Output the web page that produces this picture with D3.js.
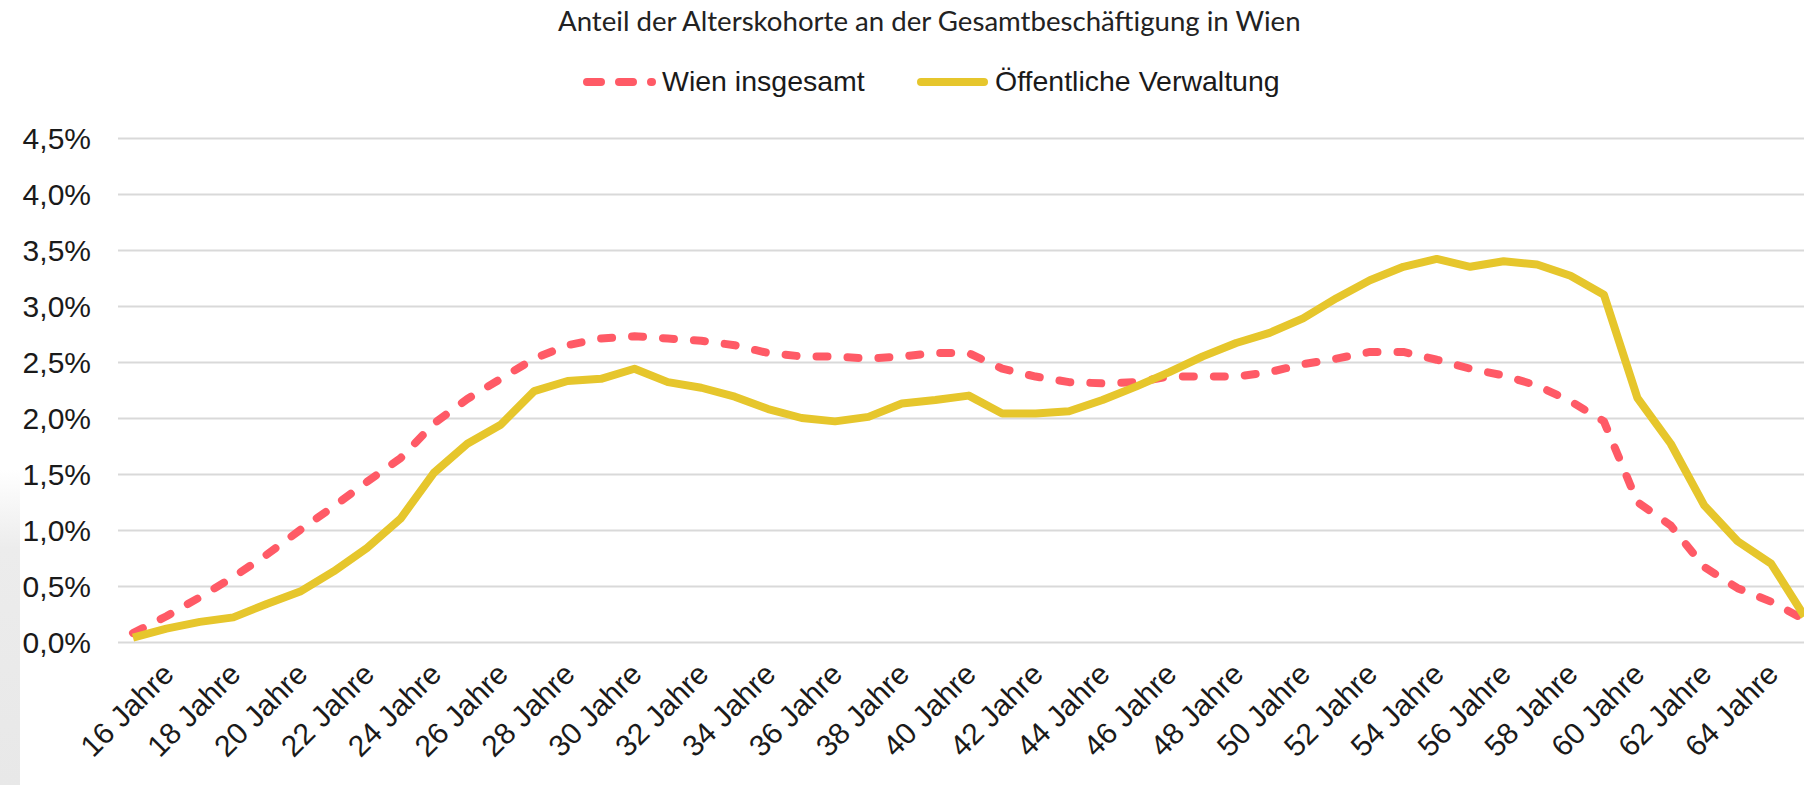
<!DOCTYPE html>
<html>
<head>
<meta charset="utf-8">
<script src="https://cdn.jsdelivr.net/npm/d3@7"></script>
<style>
  body { margin: 0; background: #fff; }
  svg { display: block; }
  .tick-label { font-family: "Liberation Sans", Arial, sans-serif; font-size: 30px; fill: #1a1a1a; }
</style>
</head>
<body>
<svg id="chart"></svg>
<script>
// ages (one point per year, labels every 2 years)
let ages = d3.range(16, 67)
let xTickAges = d3.range(16, 65, 2)
let yTicks = [0, 0.5, 1, 1.5, 2, 2.5, 3, 3.5, 4, 4.5]

// share of total employment in %
let wienInsgesamt = [
  0.08, 0.23, 0.40, 0.58, 0.78, 1.00, 1.21, 1.43, 1.64, 1.95,
  2.17, 2.35, 2.53, 2.65, 2.71, 2.73, 2.71, 2.69, 2.65, 2.58,
  2.55, 2.55, 2.53, 2.55, 2.58, 2.58, 2.44, 2.37, 2.32, 2.31,
  2.32, 2.37, 2.37, 2.37, 2.41, 2.48, 2.53, 2.59, 2.59, 2.52,
  2.44, 2.38, 2.29, 2.15, 1.97, 1.25, 1.04, 0.67, 0.48, 0.36,
  0.20
]
let oeffentlicheVerwaltung = [
  0.04, 0.12, 0.18, 0.22, 0.34, 0.45, 0.63, 0.84, 1.10, 1.51,
  1.77, 1.94, 2.24, 2.33, 2.35, 2.44, 2.32, 2.27, 2.19, 2.08,
  2.00, 1.97, 2.01, 2.13, 2.16, 2.20, 2.04, 2.04, 2.06, 2.16,
  2.28, 2.41, 2.55, 2.67, 2.76, 2.89, 3.07, 3.23, 3.35, 3.42,
  3.35, 3.40, 3.37, 3.27, 3.10, 2.18, 1.77, 1.22, 0.90, 0.70,
  0.23
]

let seriesNames = ['Wien insgesamt', 'Öffentliche Verwaltung']
let colors = ['#ff5a66', '#e6c62c']
let title = 'Anteil der Alterskohorte an der Gesamtbeschäftigung in Wien'

let width = 1804, height = 785
let m = {top: 138, bottom: 143, left: 118}

let svg = d3.select('#chart')
    .attr('width', width)
    .attr('height', height)

// light grey strip at the bottom left edge of the screenshot
let defs = svg.append('defs')
let grad = defs.append('linearGradient')
    .attr('id', 'edge')
    .attr('x1', 0).attr('y1', 0).attr('x2', 0).attr('y2', 1)
grad.append('stop').attr('offset', '0%').attr('stop-color', '#ffffff')
grad.append('stop').attr('offset', '25%').attr('stop-color', '#ececec')
grad.append('stop').attr('offset', '100%').attr('stop-color', '#e8e8e8')
svg.append('rect')
    .attr('x', 0).attr('y', 470)
    .attr('width', 20).attr('height', height - 470)
    .attr('fill', 'url(#edge)')

let xScale = d3.scalePoint()
    .domain(ages)
    .range([133, 133 + 50 * 33.43])

let yScale = d3.scaleLinear()
    .domain([0, 4.5])
    .range([height - m.bottom, m.top])

let fmt = d => d3.format('.1f')(d).replace('.', ',') + '%'

// y axis with gridlines
let yAxis = d3.axisLeft(yScale)
    .tickValues(yTicks)
    .tickSize(-(width - m.left + 20))
    .tickPadding(27)
    .tickFormat(fmt)

let gy = svg.append('g')
    .attr('transform', `translate(${m.left}, 0)`)
    .call(yAxis)
gy.select('.domain').remove()
gy.selectAll('line')
    .attr('stroke', '#d9d9d9')
    .attr('stroke-width', 2)
gy.selectAll('text')
    .attr('class', 'tick-label')
    .attr('dy', '0.36em')

// x axis labels, rotated
let xAxis = d3.axisBottom(xScale)
    .tickValues(xTickAges)
    .tickSize(0)
    .tickFormat(d => d + ' Jahre')

let gx = svg.append('g')
    .attr('transform', `translate(0, ${height - m.bottom})`)
    .call(xAxis)
gx.select('.domain').remove()
gx.selectAll('text')
    .attr('class', 'tick-label')
    .attr('text-anchor', 'end')
    .attr('dy', null)
    .attr('y', 0)
    .attr('transform', 'translate(42, 34) rotate(-45)')

// lines
let series = [wienInsgesamt, oeffentlicheVerwaltung]
let line = d3.line()
    .x((d, i) => xScale(ages[i]))
    .y(d => yScale(d))

svg.append('path')
    .datum(series[0])
    .attr('d', line)
    .attr('fill', 'none')
    .attr('stroke', colors[0])
    .attr('stroke-width', 8)
    .attr('stroke-linecap', 'round')
    .attr('stroke-linejoin', 'round')
    .attr('stroke-dasharray', '11 20')

svg.append('path')
    .datum(series[1])
    .attr('d', line)
    .attr('fill', 'none')
    .attr('stroke', colors[1])
    .attr('stroke-width', 8)
    .attr('stroke-linejoin', 'round')

// title
let t = svg.append('text')
    .attr('x', 558)
    .attr('y', 31)
    .style('font-family', 'Lato, "Open Sans", sans-serif')
    .style('font-size', '24px')
    .attr('fill', '#222')
    .text(title)
let tw = t.node().getComputedTextLength()
t.style('font-size', (24 * 743 / tw) + 'px')

// legend
let legend = [
    {x1: 583, x2: 656, tx: 662},
    {x1: 917, x2: 988, tx: 995}
]
legend.forEach(function(l, i) {
    svg.append('line')
        .attr('x1', l.x1 + 4).attr('x2', l.x2 - 4)
        .attr('y1', 82).attr('y2', 82)
        .attr('stroke', colors[i])
        .attr('stroke-width', 8)
        .attr('stroke-linecap', 'round')
        .attr('stroke-dasharray', i == 0 ? '14 18' : null)
    svg.append('text')
        .attr('x', l.tx)
        .attr('y', 91)
        .style('font-family', '"Liberation Sans", Arial, sans-serif')
        .style('font-size', '28.5px')
        .attr('fill', '#1a1a1a')
        .text(seriesNames[i])
})
</script>
</body>
</html>
